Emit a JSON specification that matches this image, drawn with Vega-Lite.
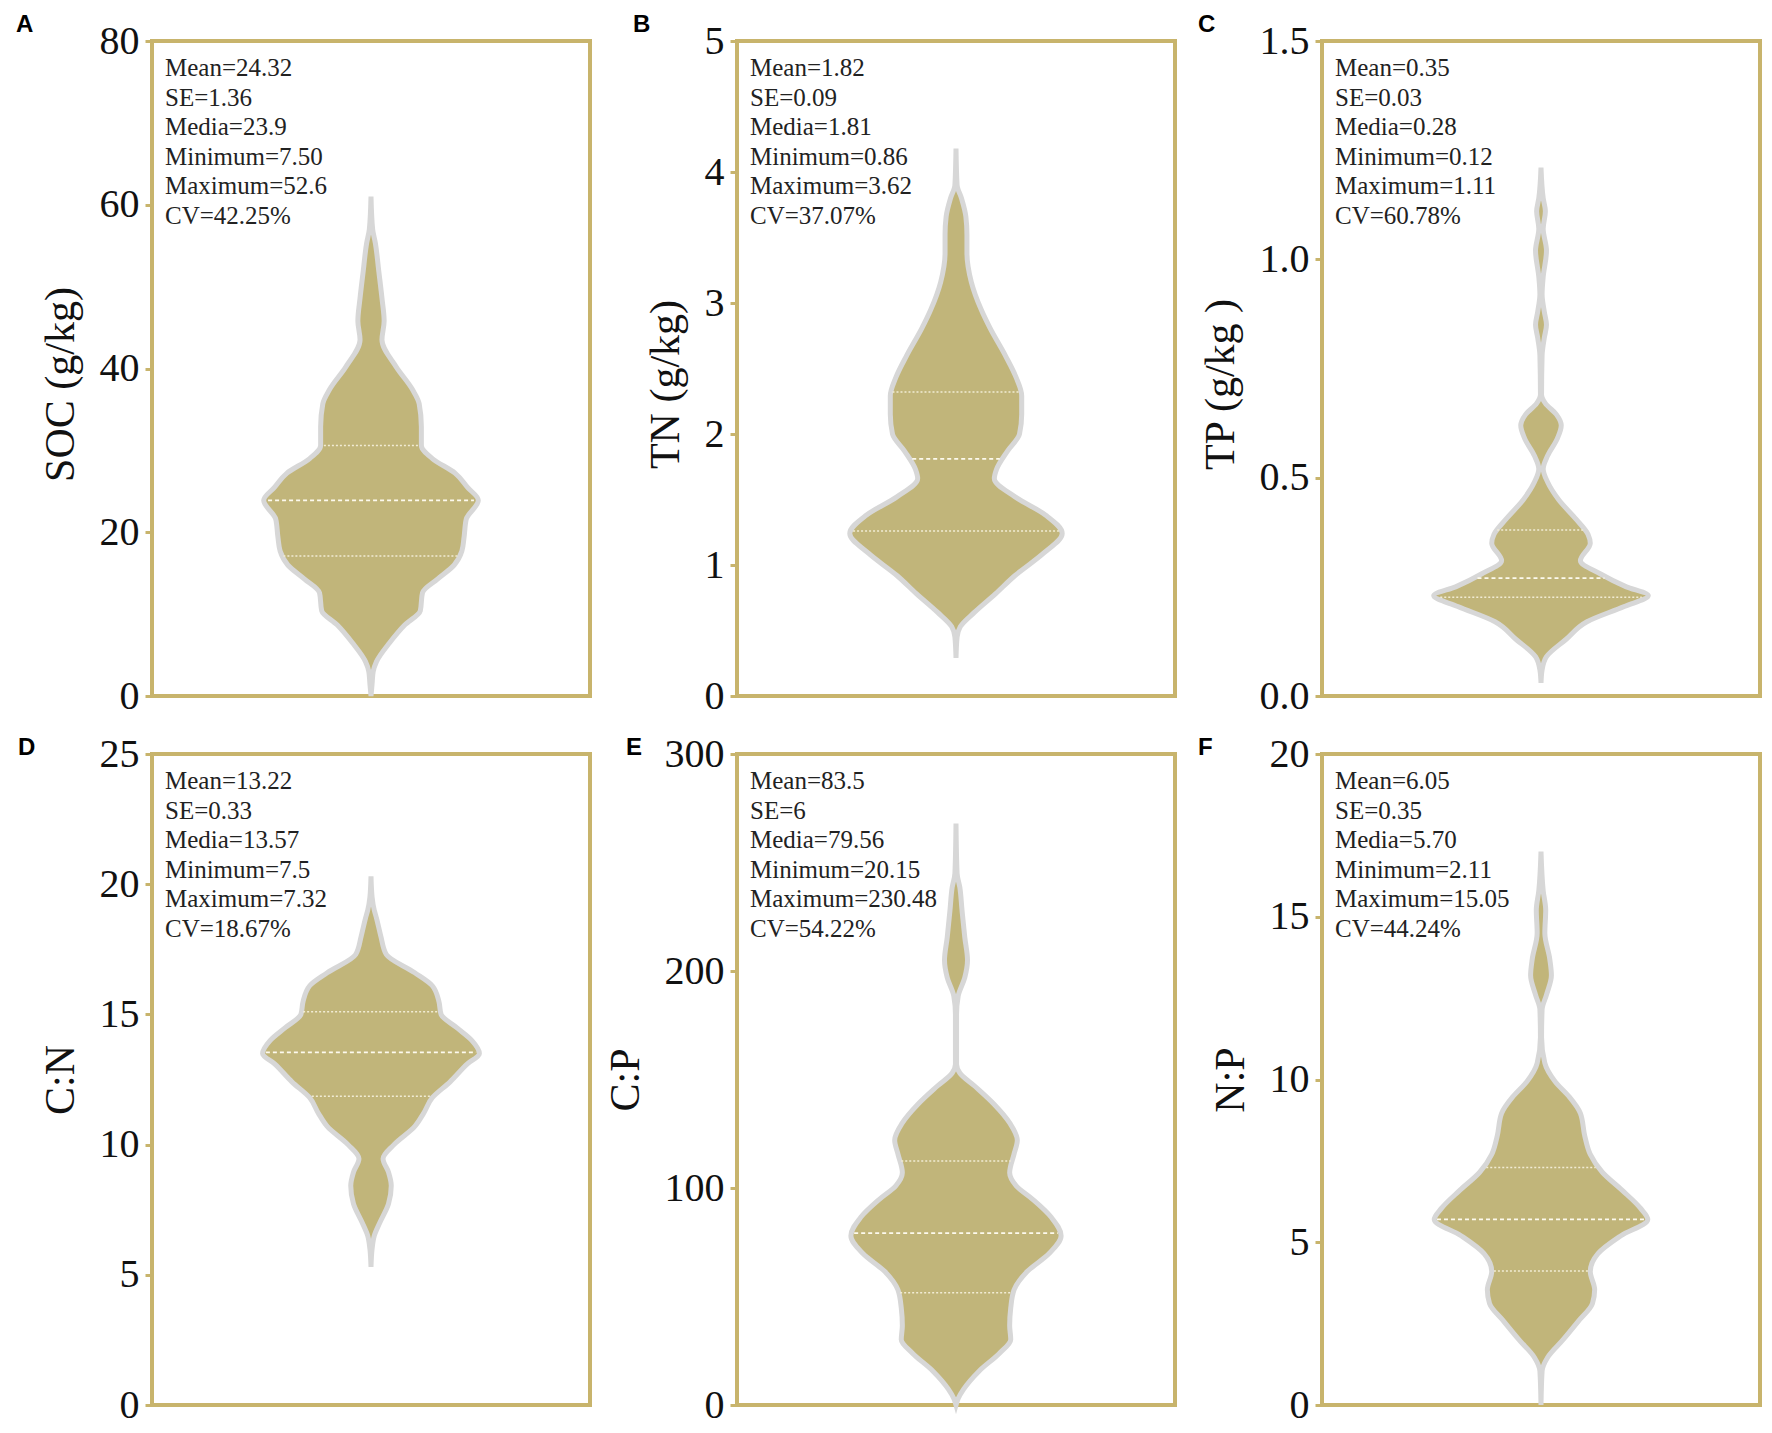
{
  "$schema": "https://vega.github.io/schema/vega-lite/v6.json",
  "background": "white",
  "padding": {"left": 14, "top": 11, "right": 5, "bottom": 5},
  "columns": 3,
  "spacing": {"row": 58, "column": 147},
  "bounds": "flush",
  "datasets": {
    "violin": [
      {"panel": "A", "v": 0, "lo": 0, "hi": 0}, {"panel": "A", "v": 1.5, "lo": -0.005, "hi": 0.005}, {"panel": "A", "v": 3, "lo": -0.01, "hi": 0.01}, {"panel": "A", "v": 4.2, "lo": -0.025, "hi": 0.025}, {"panel": "A", "v": 6.5, "lo": -0.085, "hi": 0.085}, {"panel": "A", "v": 8.7, "lo": -0.155, "hi": 0.155}, {"panel": "A", "v": 10.4, "lo": -0.225, "hi": 0.225}, {"panel": "A", "v": 12.6, "lo": -0.235, "hi": 0.235}, {"panel": "A", "v": 14.3, "lo": -0.305, "hi": 0.305}, {"panel": "A", "v": 16, "lo": -0.38, "hi": 0.38}, {"panel": "A", "v": 17.7, "lo": -0.415, "hi": 0.415}, {"panel": "A", "v": 19.4, "lo": -0.425, "hi": 0.425}, {"panel": "A", "v": 21.6, "lo": -0.435, "hi": 0.435}, {"panel": "A", "v": 23.9, "lo": -0.49, "hi": 0.49}, {"panel": "A", "v": 25.5, "lo": -0.44, "hi": 0.44}, {"panel": "A", "v": 27.2, "lo": -0.385, "hi": 0.385}, {"panel": "A", "v": 29, "lo": -0.28, "hi": 0.28}, {"panel": "A", "v": 30.6, "lo": -0.23, "hi": 0.23}, {"panel": "A", "v": 32.9, "lo": -0.23, "hi": 0.23}, {"panel": "A", "v": 35.7, "lo": -0.22, "hi": 0.22}, {"panel": "A", "v": 37.4, "lo": -0.19, "hi": 0.19}, {"panel": "A", "v": 40.2, "lo": -0.115, "hi": 0.115}, {"panel": "A", "v": 43.5, "lo": -0.05, "hi": 0.05}, {"panel": "A", "v": 45.8, "lo": -0.06, "hi": 0.06}, {"panel": "A", "v": 48.6, "lo": -0.05, "hi": 0.05}, {"panel": "A", "v": 52, "lo": -0.035, "hi": 0.035}, {"panel": "A", "v": 55.3, "lo": -0.02, "hi": 0.02}, {"panel": "A", "v": 57, "lo": -0.0075, "hi": 0.0075}, {"panel": "A", "v": 61, "lo": 0, "hi": 0},
      {"panel": "B", "v": 0.29, "lo": 0, "hi": 0}, {"panel": "B", "v": 0.45, "lo": -0.005, "hi": 0.005}, {"panel": "B", "v": 0.53, "lo": -0.02, "hi": 0.02}, {"panel": "B", "v": 0.64, "lo": -0.085, "hi": 0.085}, {"panel": "B", "v": 0.78, "lo": -0.18, "hi": 0.18}, {"panel": "B", "v": 0.92, "lo": -0.27, "hi": 0.27}, {"panel": "B", "v": 1.09, "lo": -0.4, "hi": 0.4}, {"panel": "B", "v": 1.24, "lo": -0.485, "hi": 0.485}, {"panel": "B", "v": 1.38, "lo": -0.41, "hi": 0.41}, {"panel": "B", "v": 1.52, "lo": -0.27, "hi": 0.27}, {"panel": "B", "v": 1.66, "lo": -0.175, "hi": 0.175}, {"panel": "B", "v": 1.73, "lo": -0.185, "hi": 0.185}, {"panel": "B", "v": 1.87, "lo": -0.235, "hi": 0.235}, {"panel": "B", "v": 2.0, "lo": -0.29, "hi": 0.29}, {"panel": "B", "v": 2.15, "lo": -0.3, "hi": 0.3}, {"panel": "B", "v": 2.29, "lo": -0.3, "hi": 0.3}, {"panel": "B", "v": 2.43, "lo": -0.275, "hi": 0.275}, {"panel": "B", "v": 2.6, "lo": -0.225, "hi": 0.225}, {"panel": "B", "v": 2.81, "lo": -0.155, "hi": 0.155}, {"panel": "B", "v": 2.95, "lo": -0.115, "hi": 0.115}, {"panel": "B", "v": 3.16, "lo": -0.07, "hi": 0.07}, {"panel": "B", "v": 3.38, "lo": -0.05, "hi": 0.05}, {"panel": "B", "v": 3.52, "lo": -0.05, "hi": 0.05}, {"panel": "B", "v": 3.66, "lo": -0.045, "hi": 0.045}, {"panel": "B", "v": 3.8, "lo": -0.025, "hi": 0.025}, {"panel": "B", "v": 3.9, "lo": -0.005, "hi": 0.005}, {"panel": "B", "v": 4.18, "lo": 0, "hi": 0},
      {"panel": "C", "v": 0.03, "lo": 0, "hi": 0}, {"panel": "C", "v": 0.06, "lo": -0.005, "hi": 0.005}, {"panel": "C", "v": 0.09, "lo": -0.025, "hi": 0.025}, {"panel": "C", "v": 0.13, "lo": -0.115, "hi": 0.115}, {"panel": "C", "v": 0.17, "lo": -0.21, "hi": 0.21}, {"panel": "C", "v": 0.205, "lo": -0.38, "hi": 0.38}, {"panel": "C", "v": 0.23, "lo": -0.49, "hi": 0.49}, {"panel": "C", "v": 0.25, "lo": -0.39, "hi": 0.39}, {"panel": "C", "v": 0.28, "lo": -0.27, "hi": 0.27}, {"panel": "C", "v": 0.31, "lo": -0.18, "hi": 0.18}, {"panel": "C", "v": 0.35, "lo": -0.225, "hi": 0.225}, {"panel": "C", "v": 0.37, "lo": -0.215, "hi": 0.215}, {"panel": "C", "v": 0.405, "lo": -0.16, "hi": 0.16}, {"panel": "C", "v": 0.45, "lo": -0.08, "hi": 0.08}, {"panel": "C", "v": 0.49, "lo": -0.03, "hi": 0.03}, {"panel": "C", "v": 0.52, "lo": -0.01, "hi": 0.01}, {"panel": "C", "v": 0.55, "lo": -0.03, "hi": 0.03}, {"panel": "C", "v": 0.59, "lo": -0.075, "hi": 0.075}, {"panel": "C", "v": 0.62, "lo": -0.0925, "hi": 0.0925}, {"panel": "C", "v": 0.645, "lo": -0.07, "hi": 0.07}, {"panel": "C", "v": 0.67, "lo": -0.02, "hi": 0.02}, {"panel": "C", "v": 0.69, "lo": -0.0025, "hi": 0.0025}, {"panel": "C", "v": 0.78, "lo": -0.005, "hi": 0.005}, {"panel": "C", "v": 0.82, "lo": -0.015, "hi": 0.015}, {"panel": "C", "v": 0.85, "lo": -0.025, "hi": 0.025}, {"panel": "C", "v": 0.88, "lo": -0.015, "hi": 0.015}, {"panel": "C", "v": 0.92, "lo": -0.005, "hi": 0.005}, {"panel": "C", "v": 0.96, "lo": -0.01, "hi": 0.01}, {"panel": "C", "v": 1.02, "lo": -0.025, "hi": 0.025}, {"panel": "C", "v": 1.07, "lo": -0.01, "hi": 0.01}, {"panel": "C", "v": 1.11, "lo": -0.02, "hi": 0.02}, {"panel": "C", "v": 1.14, "lo": -0.01, "hi": 0.01}, {"panel": "C", "v": 1.21, "lo": 0, "hi": 0},
      {"panel": "D", "v": 5.3, "lo": 0, "hi": 0}, {"panel": "D", "v": 6.0, "lo": -0.005, "hi": 0.005}, {"panel": "D", "v": 6.5, "lo": -0.015, "hi": 0.015}, {"panel": "D", "v": 7.0, "lo": -0.04, "hi": 0.04}, {"panel": "D", "v": 7.73, "lo": -0.08, "hi": 0.08}, {"panel": "D", "v": 8.42, "lo": -0.0925, "hi": 0.0925}, {"panel": "D", "v": 8.94, "lo": -0.08, "hi": 0.08}, {"panel": "D", "v": 9.46, "lo": -0.055, "hi": 0.055}, {"panel": "D", "v": 10.0, "lo": -0.105, "hi": 0.105}, {"panel": "D", "v": 10.7, "lo": -0.2, "hi": 0.2}, {"panel": "D", "v": 11.2, "lo": -0.24, "hi": 0.24}, {"panel": "D", "v": 11.8, "lo": -0.28, "hi": 0.28}, {"panel": "D", "v": 12.4, "lo": -0.36, "hi": 0.36}, {"panel": "D", "v": 13.1, "lo": -0.44, "hi": 0.44}, {"panel": "D", "v": 13.5, "lo": -0.495, "hi": 0.495}, {"panel": "D", "v": 14.0, "lo": -0.46, "hi": 0.46}, {"panel": "D", "v": 14.5, "lo": -0.39, "hi": 0.39}, {"panel": "D", "v": 15.0, "lo": -0.32, "hi": 0.32}, {"panel": "D", "v": 15.5, "lo": -0.31, "hi": 0.31}, {"panel": "D", "v": 16.1, "lo": -0.28, "hi": 0.28}, {"panel": "D", "v": 16.6, "lo": -0.2, "hi": 0.2}, {"panel": "D", "v": 17.3, "lo": -0.07, "hi": 0.07}, {"panel": "D", "v": 18.0, "lo": -0.045, "hi": 0.045}, {"panel": "D", "v": 18.7, "lo": -0.025, "hi": 0.025}, {"panel": "D", "v": 19.0, "lo": -0.015, "hi": 0.015}, {"panel": "D", "v": 19.5, "lo": -0.005, "hi": 0.005}, {"panel": "D", "v": 20.3, "lo": 0, "hi": 0},
      {"panel": "E", "v": 0, "lo": 0, "hi": 0}, {"panel": "E", "v": 3, "lo": -0.01, "hi": 0.01}, {"panel": "E", "v": 7.3, "lo": -0.035, "hi": 0.035}, {"panel": "E", "v": 15.6, "lo": -0.105, "hi": 0.105}, {"panel": "E", "v": 24, "lo": -0.2, "hi": 0.2}, {"panel": "E", "v": 30.2, "lo": -0.25, "hi": 0.25}, {"panel": "E", "v": 36.5, "lo": -0.245, "hi": 0.245}, {"panel": "E", "v": 44.8, "lo": -0.25, "hi": 0.25}, {"panel": "E", "v": 53, "lo": -0.265, "hi": 0.265}, {"panel": "E", "v": 61.5, "lo": -0.325, "hi": 0.325}, {"panel": "E", "v": 69.8, "lo": -0.425, "hi": 0.425}, {"panel": "E", "v": 78, "lo": -0.48, "hi": 0.48}, {"panel": "E", "v": 86.5, "lo": -0.435, "hi": 0.435}, {"panel": "E", "v": 94.8, "lo": -0.35, "hi": 0.35}, {"panel": "E", "v": 101, "lo": -0.275, "hi": 0.275}, {"panel": "E", "v": 107, "lo": -0.245, "hi": 0.245}, {"panel": "E", "v": 115.6, "lo": -0.265, "hi": 0.265}, {"panel": "E", "v": 122, "lo": -0.28, "hi": 0.28}, {"panel": "E", "v": 130, "lo": -0.245, "hi": 0.245}, {"panel": "E", "v": 138.5, "lo": -0.175, "hi": 0.175}, {"panel": "E", "v": 147, "lo": -0.085, "hi": 0.085}, {"panel": "E", "v": 153, "lo": -0.0175, "hi": 0.0175}, {"panel": "E", "v": 157, "lo": -0.0025, "hi": 0.0025}, {"panel": "E", "v": 180, "lo": -0.0025, "hi": 0.0025}, {"panel": "E", "v": 188.5, "lo": -0.01, "hi": 0.01}, {"panel": "E", "v": 197, "lo": -0.04, "hi": 0.04}, {"panel": "E", "v": 205, "lo": -0.0525, "hi": 0.0525}, {"panel": "E", "v": 215.6, "lo": -0.04, "hi": 0.04}, {"panel": "E", "v": 228, "lo": -0.0275, "hi": 0.0275}, {"panel": "E", "v": 238.5, "lo": -0.0175, "hi": 0.0175}, {"panel": "E", "v": 245, "lo": -0.005, "hi": 0.005}, {"panel": "E", "v": 268, "lo": 0, "hi": 0},
      {"panel": "F", "v": 0, "lo": 0, "hi": 0}, {"panel": "F", "v": 1.04, "lo": -0.005, "hi": 0.005}, {"panel": "F", "v": 1.46, "lo": -0.03, "hi": 0.03}, {"panel": "F", "v": 2.0, "lo": -0.1, "hi": 0.1}, {"panel": "F", "v": 2.57, "lo": -0.17, "hi": 0.17}, {"panel": "F", "v": 3.12, "lo": -0.235, "hi": 0.235}, {"panel": "F", "v": 3.54, "lo": -0.245, "hi": 0.245}, {"panel": "F", "v": 4.1, "lo": -0.225, "hi": 0.225}, {"panel": "F", "v": 4.65, "lo": -0.26, "hi": 0.26}, {"panel": "F", "v": 5.2, "lo": -0.365, "hi": 0.365}, {"panel": "F", "v": 5.7, "lo": -0.4875, "hi": 0.4875}, {"panel": "F", "v": 6.04, "lo": -0.455, "hi": 0.455}, {"panel": "F", "v": 6.6, "lo": -0.37, "hi": 0.37}, {"panel": "F", "v": 7.15, "lo": -0.28, "hi": 0.28}, {"panel": "F", "v": 7.7, "lo": -0.225, "hi": 0.225}, {"panel": "F", "v": 8.26, "lo": -0.2, "hi": 0.2}, {"panel": "F", "v": 8.96, "lo": -0.18, "hi": 0.18}, {"panel": "F", "v": 9.5, "lo": -0.125, "hi": 0.125}, {"panel": "F", "v": 9.93, "lo": -0.065, "hi": 0.065}, {"panel": "F", "v": 10.5, "lo": -0.0175, "hi": 0.0175}, {"panel": "F", "v": 11.3, "lo": -0.0025, "hi": 0.0025}, {"panel": "F", "v": 12.15, "lo": -0.005, "hi": 0.005}, {"panel": "F", "v": 12.6, "lo": -0.025, "hi": 0.025}, {"panel": "F", "v": 13.2, "lo": -0.0475, "hi": 0.0475}, {"panel": "F", "v": 13.7, "lo": -0.04, "hi": 0.04}, {"panel": "F", "v": 14.5, "lo": -0.0175, "hi": 0.0175}, {"panel": "F", "v": 15.2, "lo": -0.0215, "hi": 0.0215}, {"panel": "F", "v": 15.8, "lo": -0.01, "hi": 0.01}, {"panel": "F", "v": 17.0, "lo": 0, "hi": 0}
    ],
    "quart": [
      {"panel": "A", "kind": "q", "v": 30.6, "lo": -0.215, "hi": 0.215}, {"panel": "A", "kind": "m", "v": 23.9, "lo": -0.47, "hi": 0.47}, {"panel": "A", "kind": "q", "v": 17.1, "lo": -0.4, "hi": 0.4},
      {"panel": "B", "kind": "q", "v": 2.32, "lo": -0.29, "hi": 0.29}, {"panel": "B", "kind": "m", "v": 1.81, "lo": -0.2, "hi": 0.2}, {"panel": "B", "kind": "q", "v": 1.26, "lo": -0.47, "hi": 0.47},
      {"panel": "C", "kind": "q", "v": 0.38, "lo": -0.2, "hi": 0.2}, {"panel": "C", "kind": "m", "v": 0.27, "lo": -0.29, "hi": 0.29}, {"panel": "C", "kind": "q", "v": 0.226, "lo": -0.46, "hi": 0.46},
      {"panel": "D", "kind": "q", "v": 15.1, "lo": -0.31, "hi": 0.31}, {"panel": "D", "kind": "m", "v": 13.54, "lo": -0.48, "hi": 0.48}, {"panel": "D", "kind": "q", "v": 11.86, "lo": -0.27, "hi": 0.27},
      {"panel": "E", "kind": "q", "v": 112.5, "lo": -0.25, "hi": 0.25}, {"panel": "E", "kind": "m", "v": 79.2, "lo": -0.465, "hi": 0.465}, {"panel": "E", "kind": "q", "v": 51.7, "lo": -0.255, "hi": 0.255},
      {"panel": "F", "kind": "q", "v": 7.3, "lo": -0.25, "hi": 0.25}, {"panel": "F", "kind": "m", "v": 5.7, "lo": -0.475, "hi": 0.475}, {"panel": "F", "kind": "q", "v": 4.12, "lo": -0.215, "hi": 0.215}
    ],
    "stats": [
      {"panel": "A", "lines": ["Mean=24.32", "SE=1.36", "Media=23.9", "Minimum=7.50", "Maximum=52.6", "CV=42.25%"]},
      {"panel": "B", "lines": ["Mean=1.82", "SE=0.09", "Media=1.81", "Minimum=0.86", "Maximum=3.62", "CV=37.07%"]},
      {"panel": "C", "lines": ["Mean=0.35", "SE=0.03", "Media=0.28", "Minimum=0.12", "Maximum=1.11", "CV=60.78%"]},
      {"panel": "D", "lines": ["Mean=13.22", "SE=0.33", "Media=13.57", "Minimum=7.5", "Maximum=7.32", "CV=18.67%"]},
      {"panel": "E", "lines": ["Mean=83.5", "SE=6", "Media=79.56", "Minimum=20.15", "Maximum=230.48", "CV=54.22%"]},
      {"panel": "F", "lines": ["Mean=6.05", "SE=0.35", "Media=5.70", "Minimum=2.11", "Maximum=15.05", "CV=44.24%"]}
    ]
  },
  "concat": [
    {
      "width": 438, "height": 655,
      "title": {"text": "A", "dx": -136, "offset": -16},
      "layer": [
        {"data": {"name": "violin"}, "transform": [{"filter": "datum.panel === 'A'"}],
         "mark": {"type": "area", "orient": "horizontal", "interpolate": "monotone", "fill": "#c1b57a", "stroke": "#d7d7d7", "strokeWidth": 5},
         "encoding": {"y": {"field": "v", "type": "quantitative", "scale": {"domain": [0, 80], "nice": false}, "axis": {"values": [0, 20, 40, 60, 80], "title": "SOC (g/kg)", "titleY": 343}},
                      "x": {"field": "lo", "type": "quantitative", "scale": {"domain": [-1, 1]}, "axis": null}, "x2": {"field": "hi"}}},
        {"data": {"name": "quart"}, "transform": [{"filter": "datum.panel === 'A' && datum.kind === 'q'"}],
         "mark": {"type": "rule", "color": "#f1ecd4", "strokeWidth": 1.5, "strokeDash": [2, 2]},
         "encoding": {"y": {"field": "v", "type": "quantitative", "scale": {"domain": [0, 80], "nice": false}, "axis": {"values": [0, 20, 40, 60, 80], "title": "SOC (g/kg)", "titleY": 343}},
                      "x": {"field": "lo", "type": "quantitative", "scale": {"domain": [-1, 1]}, "axis": null}, "x2": {"field": "hi"}}},
        {"data": {"name": "quart"}, "transform": [{"filter": "datum.panel === 'A' && datum.kind === 'm'"}],
         "mark": {"type": "rule", "color": "#fdfaee", "strokeWidth": 1.8, "strokeDash": [4, 3]},
         "encoding": {"y": {"field": "v", "type": "quantitative", "scale": {"domain": [0, 80], "nice": false}, "axis": {"values": [0, 20, 40, 60, 80], "title": "SOC (g/kg)", "titleY": 343}},
                      "x": {"field": "lo", "type": "quantitative", "scale": {"domain": [-1, 1]}, "axis": null}, "x2": {"field": "hi"}}},
        {"data": {"name": "stats"}, "transform": [{"filter": "datum.panel === 'A'"}],
         "mark": {"type": "text", "align": "left", "baseline": "alphabetic", "dx": 13, "dy": 35, "font": "Liberation Serif", "fontSize": 25, "lineHeight": 29.5, "color": "#222222"},
         "encoding": {"text": {"field": "lines"},
                      "x": {"datum": -1, "type": "quantitative", "scale": {"domain": [-1, 1]}, "axis": null},
                      "y": {"datum": 80, "type": "quantitative", "scale": {"domain": [0, 80], "nice": false}, "axis": {"values": [0, 20, 40, 60, 80], "title": "SOC (g/kg)", "titleY": 343}}}}
      ]
    },
    {
      "width": 438, "height": 655,
      "title": {"text": "B", "dx": -104, "offset": -16},
      "layer": [
        {"data": {"name": "violin"}, "transform": [{"filter": "datum.panel === 'B'"}],
         "mark": {"type": "area", "orient": "horizontal", "interpolate": "monotone", "fill": "#c1b57a", "stroke": "#d7d7d7", "strokeWidth": 5},
         "encoding": {"y": {"field": "v", "type": "quantitative", "scale": {"domain": [0, 5], "nice": false}, "axis": {"values": [0, 1, 2, 3, 4, 5], "title": "TN (g/kg)", "titleY": 343}},
                      "x": {"field": "lo", "type": "quantitative", "scale": {"domain": [-1, 1]}, "axis": null}, "x2": {"field": "hi"}}},
        {"data": {"name": "quart"}, "transform": [{"filter": "datum.panel === 'B' && datum.kind === 'q'"}],
         "mark": {"type": "rule", "color": "#f1ecd4", "strokeWidth": 1.5, "strokeDash": [2, 2]},
         "encoding": {"y": {"field": "v", "type": "quantitative", "scale": {"domain": [0, 5], "nice": false}, "axis": {"values": [0, 1, 2, 3, 4, 5], "title": "TN (g/kg)", "titleY": 343}},
                      "x": {"field": "lo", "type": "quantitative", "scale": {"domain": [-1, 1]}, "axis": null}, "x2": {"field": "hi"}}},
        {"data": {"name": "quart"}, "transform": [{"filter": "datum.panel === 'B' && datum.kind === 'm'"}],
         "mark": {"type": "rule", "color": "#fdfaee", "strokeWidth": 1.8, "strokeDash": [4, 3]},
         "encoding": {"y": {"field": "v", "type": "quantitative", "scale": {"domain": [0, 5], "nice": false}, "axis": {"values": [0, 1, 2, 3, 4, 5], "title": "TN (g/kg)", "titleY": 343}},
                      "x": {"field": "lo", "type": "quantitative", "scale": {"domain": [-1, 1]}, "axis": null}, "x2": {"field": "hi"}}},
        {"data": {"name": "stats"}, "transform": [{"filter": "datum.panel === 'B'"}],
         "mark": {"type": "text", "align": "left", "baseline": "alphabetic", "dx": 13, "dy": 35, "font": "Liberation Serif", "fontSize": 25, "lineHeight": 29.5, "color": "#222222"},
         "encoding": {"text": {"field": "lines"},
                      "x": {"datum": -1, "type": "quantitative", "scale": {"domain": [-1, 1]}, "axis": null},
                      "y": {"datum": 5, "type": "quantitative", "scale": {"domain": [0, 5], "nice": false}, "axis": {"values": [0, 1, 2, 3, 4, 5], "title": "TN (g/kg)", "titleY": 343}}}}
      ]
    },
    {
      "width": 438, "height": 655,
      "title": {"text": "C", "dx": -124, "offset": -16},
      "layer": [
        {"data": {"name": "violin"}, "transform": [{"filter": "datum.panel === 'C'"}],
         "mark": {"type": "area", "orient": "horizontal", "interpolate": "monotone", "fill": "#c1b57a", "stroke": "#d7d7d7", "strokeWidth": 5},
         "encoding": {"y": {"field": "v", "type": "quantitative", "scale": {"domain": [0, 1.5], "nice": false}, "axis": {"values": [0, 0.5, 1, 1.5], "format": ".1f", "title": "TP (g/kg )", "titleY": 343}},
                      "x": {"field": "lo", "type": "quantitative", "scale": {"domain": [-1, 1]}, "axis": null}, "x2": {"field": "hi"}}},
        {"data": {"name": "quart"}, "transform": [{"filter": "datum.panel === 'C' && datum.kind === 'q'"}],
         "mark": {"type": "rule", "color": "#f1ecd4", "strokeWidth": 1.5, "strokeDash": [2, 2]},
         "encoding": {"y": {"field": "v", "type": "quantitative", "scale": {"domain": [0, 1.5], "nice": false}, "axis": {"values": [0, 0.5, 1, 1.5], "format": ".1f", "title": "TP (g/kg )", "titleY": 343}},
                      "x": {"field": "lo", "type": "quantitative", "scale": {"domain": [-1, 1]}, "axis": null}, "x2": {"field": "hi"}}},
        {"data": {"name": "quart"}, "transform": [{"filter": "datum.panel === 'C' && datum.kind === 'm'"}],
         "mark": {"type": "rule", "color": "#fdfaee", "strokeWidth": 1.8, "strokeDash": [4, 3]},
         "encoding": {"y": {"field": "v", "type": "quantitative", "scale": {"domain": [0, 1.5], "nice": false}, "axis": {"values": [0, 0.5, 1, 1.5], "format": ".1f", "title": "TP (g/kg )", "titleY": 343}},
                      "x": {"field": "lo", "type": "quantitative", "scale": {"domain": [-1, 1]}, "axis": null}, "x2": {"field": "hi"}}},
        {"data": {"name": "stats"}, "transform": [{"filter": "datum.panel === 'C'"}],
         "mark": {"type": "text", "align": "left", "baseline": "alphabetic", "dx": 13, "dy": 35, "font": "Liberation Serif", "fontSize": 25, "lineHeight": 29.5, "color": "#222222"},
         "encoding": {"text": {"field": "lines"},
                      "x": {"datum": -1, "type": "quantitative", "scale": {"domain": [-1, 1]}, "axis": null},
                      "y": {"datum": 1.5, "type": "quantitative", "scale": {"domain": [0, 1.5], "nice": false}, "axis": {"values": [0, 0.5, 1, 1.5], "format": ".1f", "title": "TP (g/kg )", "titleY": 343}}}}
      ]
    },
    {
      "width": 438, "height": 651,
      "title": {"text": "D", "dx": -134, "offset": -26},
      "layer": [
        {"data": {"name": "violin"}, "transform": [{"filter": "datum.panel === 'D'"}],
         "mark": {"type": "area", "orient": "horizontal", "interpolate": "monotone", "fill": "#c1b57a", "stroke": "#d7d7d7", "strokeWidth": 5},
         "encoding": {"y": {"field": "v", "type": "quantitative", "scale": {"domain": [0, 25], "nice": false}, "axis": {"values": [0, 5, 10, 15, 20, 25], "title": "C:N"}},
                      "x": {"field": "lo", "type": "quantitative", "scale": {"domain": [-1, 1]}, "axis": null}, "x2": {"field": "hi"}}},
        {"data": {"name": "quart"}, "transform": [{"filter": "datum.panel === 'D' && datum.kind === 'q'"}],
         "mark": {"type": "rule", "color": "#f1ecd4", "strokeWidth": 1.5, "strokeDash": [2, 2]},
         "encoding": {"y": {"field": "v", "type": "quantitative", "scale": {"domain": [0, 25], "nice": false}, "axis": {"values": [0, 5, 10, 15, 20, 25], "title": "C:N"}},
                      "x": {"field": "lo", "type": "quantitative", "scale": {"domain": [-1, 1]}, "axis": null}, "x2": {"field": "hi"}}},
        {"data": {"name": "quart"}, "transform": [{"filter": "datum.panel === 'D' && datum.kind === 'm'"}],
         "mark": {"type": "rule", "color": "#fdfaee", "strokeWidth": 1.8, "strokeDash": [4, 3]},
         "encoding": {"y": {"field": "v", "type": "quantitative", "scale": {"domain": [0, 25], "nice": false}, "axis": {"values": [0, 5, 10, 15, 20, 25], "title": "C:N"}},
                      "x": {"field": "lo", "type": "quantitative", "scale": {"domain": [-1, 1]}, "axis": null}, "x2": {"field": "hi"}}},
        {"data": {"name": "stats"}, "transform": [{"filter": "datum.panel === 'D'"}],
         "mark": {"type": "text", "align": "left", "baseline": "alphabetic", "dx": 13, "dy": 35, "font": "Liberation Serif", "fontSize": 25, "lineHeight": 29.5, "color": "#222222"},
         "encoding": {"text": {"field": "lines"},
                      "x": {"datum": -1, "type": "quantitative", "scale": {"domain": [-1, 1]}, "axis": null},
                      "y": {"datum": 25, "type": "quantitative", "scale": {"domain": [0, 25], "nice": false}, "axis": {"values": [0, 5, 10, 15, 20, 25], "title": "C:N"}}}}
      ]
    },
    {
      "width": 438, "height": 651,
      "title": {"text": "E", "dx": -111, "offset": -26},
      "layer": [
        {"data": {"name": "violin"}, "transform": [{"filter": "datum.panel === 'E'"}],
         "mark": {"type": "area", "orient": "horizontal", "interpolate": "monotone", "fill": "#c1b57a", "stroke": "#d7d7d7", "strokeWidth": 5},
         "encoding": {"y": {"field": "v", "type": "quantitative", "scale": {"domain": [0, 300], "nice": false}, "axis": {"values": [0, 100, 200, 300], "title": "C:P"}},
                      "x": {"field": "lo", "type": "quantitative", "scale": {"domain": [-1, 1]}, "axis": null}, "x2": {"field": "hi"}}},
        {"data": {"name": "quart"}, "transform": [{"filter": "datum.panel === 'E' && datum.kind === 'q'"}],
         "mark": {"type": "rule", "color": "#f1ecd4", "strokeWidth": 1.5, "strokeDash": [2, 2]},
         "encoding": {"y": {"field": "v", "type": "quantitative", "scale": {"domain": [0, 300], "nice": false}, "axis": {"values": [0, 100, 200, 300], "title": "C:P"}},
                      "x": {"field": "lo", "type": "quantitative", "scale": {"domain": [-1, 1]}, "axis": null}, "x2": {"field": "hi"}}},
        {"data": {"name": "quart"}, "transform": [{"filter": "datum.panel === 'E' && datum.kind === 'm'"}],
         "mark": {"type": "rule", "color": "#fdfaee", "strokeWidth": 1.8, "strokeDash": [4, 3]},
         "encoding": {"y": {"field": "v", "type": "quantitative", "scale": {"domain": [0, 300], "nice": false}, "axis": {"values": [0, 100, 200, 300], "title": "C:P"}},
                      "x": {"field": "lo", "type": "quantitative", "scale": {"domain": [-1, 1]}, "axis": null}, "x2": {"field": "hi"}}},
        {"data": {"name": "stats"}, "transform": [{"filter": "datum.panel === 'E'"}],
         "mark": {"type": "text", "align": "left", "baseline": "alphabetic", "dx": 13, "dy": 35, "font": "Liberation Serif", "fontSize": 25, "lineHeight": 29.5, "color": "#222222"},
         "encoding": {"text": {"field": "lines"},
                      "x": {"datum": -1, "type": "quantitative", "scale": {"domain": [-1, 1]}, "axis": null},
                      "y": {"datum": 300, "type": "quantitative", "scale": {"domain": [0, 300], "nice": false}, "axis": {"values": [0, 100, 200, 300], "title": "C:P"}}}}
      ]
    },
    {
      "width": 438, "height": 651,
      "title": {"text": "F", "dx": -124, "offset": -26},
      "layer": [
        {"data": {"name": "violin"}, "transform": [{"filter": "datum.panel === 'F'"}],
         "mark": {"type": "area", "orient": "horizontal", "interpolate": "monotone", "fill": "#c1b57a", "stroke": "#d7d7d7", "strokeWidth": 5},
         "encoding": {"y": {"field": "v", "type": "quantitative", "scale": {"domain": [0, 20], "nice": false}, "axis": {"values": [0, 5, 10, 15, 20], "title": "N:P"}},
                      "x": {"field": "lo", "type": "quantitative", "scale": {"domain": [-1, 1]}, "axis": null}, "x2": {"field": "hi"}}},
        {"data": {"name": "quart"}, "transform": [{"filter": "datum.panel === 'F' && datum.kind === 'q'"}],
         "mark": {"type": "rule", "color": "#f1ecd4", "strokeWidth": 1.5, "strokeDash": [2, 2]},
         "encoding": {"y": {"field": "v", "type": "quantitative", "scale": {"domain": [0, 20], "nice": false}, "axis": {"values": [0, 5, 10, 15, 20], "title": "N:P"}},
                      "x": {"field": "lo", "type": "quantitative", "scale": {"domain": [-1, 1]}, "axis": null}, "x2": {"field": "hi"}}},
        {"data": {"name": "quart"}, "transform": [{"filter": "datum.panel === 'F' && datum.kind === 'm'"}],
         "mark": {"type": "rule", "color": "#fdfaee", "strokeWidth": 1.8, "strokeDash": [4, 3]},
         "encoding": {"y": {"field": "v", "type": "quantitative", "scale": {"domain": [0, 20], "nice": false}, "axis": {"values": [0, 5, 10, 15, 20], "title": "N:P"}},
                      "x": {"field": "lo", "type": "quantitative", "scale": {"domain": [-1, 1]}, "axis": null}, "x2": {"field": "hi"}}},
        {"data": {"name": "stats"}, "transform": [{"filter": "datum.panel === 'F'"}],
         "mark": {"type": "text", "align": "left", "baseline": "alphabetic", "dx": 13, "dy": 35, "font": "Liberation Serif", "fontSize": 25, "lineHeight": 29.5, "color": "#222222"},
         "encoding": {"text": {"field": "lines"},
                      "x": {"datum": -1, "type": "quantitative", "scale": {"domain": [-1, 1]}, "axis": null},
                      "y": {"datum": 20, "type": "quantitative", "scale": {"domain": [0, 20], "nice": false}, "axis": {"values": [0, 5, 10, 15, 20], "title": "N:P"}}}}
      ]
    }
  ],
  "config": {
    "view": {"stroke": "#c8b46c", "strokeWidth": 4},
    "title": {"anchor": "start", "frame": "group", "font": "Liberation Sans", "fontSize": 24, "fontWeight": "bold", "baseline": "alphabetic", "color": "#000000"},
    "axis": {"domain": false, "grid": false, "ticks": true, "tickColor": "#c8b46c", "tickWidth": 3, "tickSize": 7, "labelFont": "Liberation Serif", "labelFontSize": 40, "labelColor": "#111111", "labelPadding": 6, "labelFlush": false, "labelOverlap": false, "titleFont": "Liberation Serif", "titleFontSize": 42, "titleFontWeight": "normal", "titleColor": "#111111", "titlePadding": 17}
  }
}
